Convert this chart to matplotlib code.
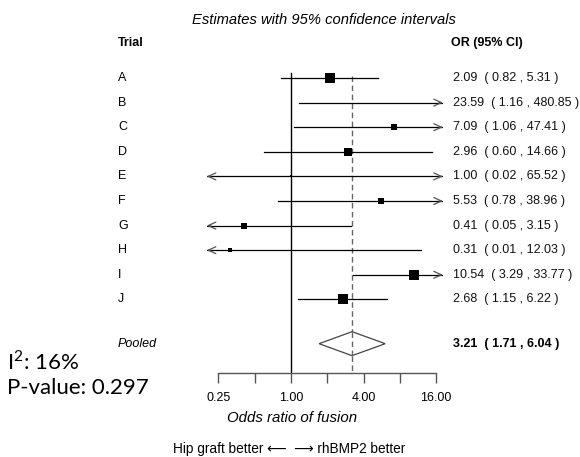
import numpy as np
import matplotlib
matplotlib.use("Agg")
import matplotlib.pyplot as plt

plt.rcParams["font.family"] = ["Liberation Sans", "DejaVu Sans"]
plt.rcParams["mathtext.fontset"] = "custom"
plt.rcParams["mathtext.rm"] = "Lato"

# trial estimates (odds ratios with 95% CI)
trials = ["A", "B", "C", "D", "E", "F", "G", "H", "I", "J"]
odds = [2.09, 23.59, 7.09, 2.96, 1.00, 5.53, 0.41, 0.31, 10.54, 2.68]
ci_lo = [0.82, 1.16, 1.06, 0.60, 0.02, 0.78, 0.05, 0.01, 3.29, 1.15]
ci_hi = [5.31, 480.85, 47.41, 14.66, 65.52, 38.96, 3.15, 12.03, 33.77, 6.22]
box_size = [11, 0, 7, 8, 2.5, 7, 6, 3.5, 9.5, 11]   # box width in px (study weight)
pooled = 3.21
pooled_lo, pooled_hi = 1.71, 6.04
i2_text = "16%"
p_text = "0.297"
ticks = [0.25, 0.5, 1, 2, 4, 8, 16]
tick_labels = ["0.25", "", "1.00", "", "4.00", "", "16.00"]

W, H = 580, 457
XMIN, XMAX = 0.2, 18.2          # clipping range of the CI lines
X1, PX_PER_DOUBLE = 291.0, 36.3  # pixel of OR=1 and px per doubling
ROW0, ROW_STEP = 78.0, 24.6
POOLED_ROW = 10.8


def fx(px):
    return px / W


def fy(py):
    return 1 - py / H


def px_of(v):
    return X1 + PX_PER_DOUBLE * np.log2(v)


fig = plt.figure(figsize=(W / 100, H / 100), dpi=100)
top_px, bot_px = 60.0, 372.7
left_px, right_px = px_of(XMIN), px_of(XMAX)
ax = fig.add_axes([fx(left_px), fy(bot_px), (right_px - left_px) / W, (bot_px - top_px) / H])
ax.set_xscale("log", base=2)
ax.set_xlim(XMIN, XMAX)
ax.set_ylim((bot_px - ROW0) / ROW_STEP, (top_px - ROW0) / ROW_STEP)
ax.patch.set_alpha(0)
for s in ["top", "left", "right"]:
    ax.spines[s].set_visible(False)
ax.spines["bottom"].set_bounds(0.25, 16)
ax.spines["bottom"].set_color("#555555")
ax.spines["bottom"].set_linewidth(1.0)
ax.set_yticks([])
ax.set_xticks(ticks)
ax.set_xticklabels([])
ax.xaxis.set_minor_locator(matplotlib.ticker.NullLocator())
ax.tick_params(axis="x", length=7, width=1.0, color="#555555", direction="out")

# reference lines
y_top = (73 - ROW0) / ROW_STEP
ax.plot([1, 1], [y_top, ax.get_ylim()[0]], color="black", lw=1.0, zorder=1)
ax.plot([pooled, pooled], [y_top + 0.12, ax.get_ylim()[0]], color="#666666", lw=1.0,
        ls=(0, (4, 2.5)), zorder=1)

head = dict(arrowstyle="->,head_length=0.55,head_width=0.25", color="#555555",
            lw=0.9, shrinkA=0, shrinkB=0, mutation_scale=10)
for i, (o, lo, hi, bs) in enumerate(zip(odds, ci_lo, ci_hi, box_size)):
    lo_c, hi_c = max(lo, XMIN), min(hi, XMAX)
    ax.plot([lo_c, hi_c], [i, i], color="black", lw=0.9, zorder=2)
    if hi > XMAX:
        ax.annotate("", xy=(XMAX, i), xytext=(XMAX / 1.08, i), arrowprops=head)
    if lo < XMIN:
        ax.annotate("", xy=(XMIN, i), xytext=(XMIN * 1.08, i), arrowprops=head)
    if XMIN <= o <= XMAX and bs > 0:
        ax.plot(o, i, marker="s", ms=bs / 1.389, color="black", mew=0, zorder=3)

# pooled diamond
dy = 12 / ROW_STEP
ax.fill([pooled_lo, pooled, pooled_hi, pooled], [POOLED_ROW, POOLED_ROW - dy, POOLED_ROW, POOLED_ROW + dy],
        facecolor="white", edgecolor="#444444", lw=0.9, zorder=2)
ax.plot([pooled, pooled], [POOLED_ROW - dy, POOLED_ROW + dy], color="#666666", lw=1.0,
        ls=(0, (4, 2.5)), zorder=3)

# tick labels
for t, lab in zip(ticks, tick_labels):
    if lab:
        fig.text(fx(px_of(t)), fy(398), lab, ha="center", va="center", fontsize=9)

fig.text(fx(324), fy(20), "Estimates with 95% confidence intervals", ha="center", va="center",
         fontsize=10.6, style="italic")
fig.text(fx(118), fy(43), "Trial", ha="left", va="center", fontsize=9, weight="bold")
fig.text(fx(451), fy(43), "OR (95% CI)", ha="left", va="center", fontsize=9, weight="bold")

for i, (t, o, lo, hi) in enumerate(zip(trials, odds, ci_lo, ci_hi)):
    py = ROW0 + i * ROW_STEP
    fig.text(fx(118), fy(py), t, ha="left", va="center", fontsize=9)
    fig.text(fx(453), fy(py), f"{o:.2f}  ( {lo:.2f} , {hi:.2f} )", ha="left", va="center",
             fontsize=9, color="#111111")

py = ROW0 + POOLED_ROW * ROW_STEP
fig.text(fx(118), fy(py), "Pooled", ha="left", va="center", fontsize=9, style="italic")
fig.text(fx(453), fy(py), f"{pooled:.2f}  ( {pooled_lo:.2f} , {pooled_hi:.2f} )", ha="left",
         va="center", fontsize=9, weight="bold")

fig.text(fx(292), fy(418), "Odds ratio of fusion", ha="center", va="center", fontsize=10.8,
         style="italic")
fig.text(fx(289), fy(449), "Hip graft better \u27f5  \u27f6 rhBMP2 better", ha="center",
         va="center", fontsize=9.8, family=["Liberation Sans", "DejaVu Sans"])

fig.text(fx(7), fy(362), "I$^{2}$: " + i2_text, ha="left", va="center", fontsize=16,
         family=["Lato"])
fig.text(fx(7), fy(388), "P-value: " + p_text, ha="left", va="center", fontsize=16,
         family=["Lato"])

fig.savefig("out.png", dpi=100)
